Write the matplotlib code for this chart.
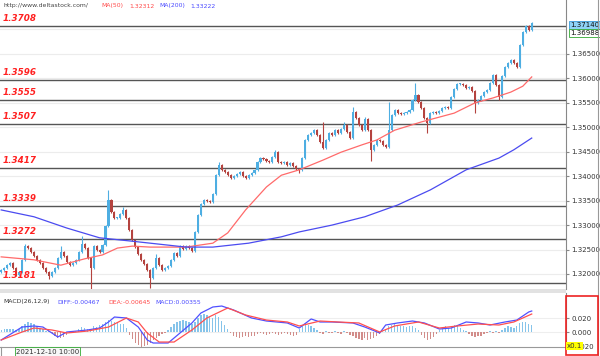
import numpy as np
import matplotlib.pyplot as plt
from matplotlib.patches import Rectangle
from matplotlib.lines import Line2D

# ---- data (hourly candles) ----
closes = [
    1.3208, 1.3212, 1.3218, 1.3222, 1.3212, 1.3198, 1.3204, 1.3229, 1.3257, 1.3253,
    1.3245, 1.3237, 1.3229, 1.3222, 1.3212, 1.3204, 1.3196, 1.3204, 1.3212, 1.3233,
    1.3245, 1.3237, 1.3225, 1.3218, 1.3222, 1.3229, 1.3245, 1.3261, 1.3253, 1.3233,
    1.3212, 1.3257, 1.3249, 1.3245, 1.3259, 1.3298, 1.3351, 1.3327, 1.3315, 1.3315,
    1.3323, 1.3331, 1.3315, 1.3290, 1.3270, 1.3255, 1.3241, 1.3229, 1.3220, 1.3208,
    1.3192, 1.3212, 1.3233, 1.3218, 1.3208, 1.3212, 1.3216, 1.3229, 1.3243, 1.3237,
    1.3257, 1.3251, 1.3257, 1.3253, 1.3247, 1.3286, 1.3321, 1.3343, 1.3351, 1.3349,
    1.3347, 1.3364, 1.3402, 1.3423, 1.3413, 1.3409, 1.3402, 1.3396, 1.3400, 1.3404,
    1.3409, 1.3400, 1.3396, 1.3402, 1.3407, 1.3413, 1.3429, 1.3437, 1.3435, 1.3431,
    1.3429, 1.3439, 1.3449, 1.3429, 1.3427, 1.3429, 1.3423, 1.3427, 1.3421, 1.3415,
    1.3413, 1.3437, 1.3474, 1.3484, 1.3488, 1.3494, 1.3484, 1.3470, 1.3458, 1.3474,
    1.3488, 1.3484, 1.3494, 1.3488, 1.3497, 1.3505, 1.3490, 1.3478, 1.3531, 1.3519,
    1.3505, 1.3494, 1.3517, 1.3494, 1.3454, 1.3464, 1.3474, 1.3472, 1.3464, 1.3460,
    1.3494, 1.3525, 1.3535, 1.3529, 1.3527, 1.3529, 1.3531, 1.3535, 1.3556, 1.3566,
    1.3552, 1.3540, 1.3519, 1.3509, 1.3529, 1.3531, 1.3529, 1.3533, 1.3540, 1.3542,
    1.3540, 1.3562, 1.3578, 1.3589, 1.3589, 1.3587, 1.3580, 1.3582, 1.3574, 1.3550,
    1.3556, 1.3564, 1.3572, 1.3576, 1.3591, 1.3607, 1.3587, 1.3562, 1.3605, 1.3623,
    1.3631, 1.3638, 1.3631, 1.3623, 1.3668, 1.3695, 1.3707, 1.3699, 1.3714,
]
first_open = 1.3205
# candles with long wicks
spike_highs = {8: 1.3262, 20: 1.3257, 27: 1.3278, 36: 1.3372, 41: 1.3337, 52: 1.3240,
               73: 1.3430, 92: 1.3453, 108: 1.3511, 115: 1.3511, 118: 1.3542,
               122: 1.3521, 130: 1.3552, 139: 1.3591, 178: 1.3716}
spike_lows = {16: 1.3190, 30: 1.3167, 50: 1.3172, 100: 1.3407, 124: 1.3431,
              143: 1.3489, 159: 1.3530, 167: 1.3556}

levels = [1.3708, 1.3596, 1.3555, 1.3507, 1.3417, 1.3339, 1.3272, 1.3181]
price_ticks = [1.320, 1.325, 1.330, 1.335, 1.340, 1.345, 1.350, 1.355, 1.360, 1.365]
grid_prices = price_ticks + [1.370]

ma50_idx = [0, 11, 20, 28, 34, 39, 44, 50, 56, 62, 71, 76, 82, 89, 94, 100, 108, 114,
            121, 126, 132, 141, 152, 159, 165, 171, 175, 178]
ma50_val = [1.3235, 1.3229, 1.3218, 1.3231, 1.3239, 1.3253, 1.3257, 1.3255, 1.3255,
            1.3255, 1.3263, 1.3284, 1.3331, 1.3378, 1.3402, 1.3413, 1.3433, 1.3449,
            1.3464, 1.3474, 1.3494, 1.3511, 1.3529, 1.3550, 1.3560, 1.3572, 1.3584, 1.3603]
ma200_idx = [0, 11, 22, 33, 44, 56, 62, 71, 83, 94, 100, 111, 122, 133, 144, 156, 167, 172, 178]
ma200_val = [1.3331, 1.3317, 1.3294, 1.3274, 1.3267, 1.3259, 1.3255, 1.3255, 1.3263,
             1.3276, 1.3286, 1.3300, 1.3317, 1.3341, 1.3372, 1.3413, 1.3437, 1.3454, 1.3478]

# MACD panel
diff_idx = [0, 7, 11, 14, 19, 22, 29, 33, 36, 38, 42, 46, 49, 51, 56, 60, 64, 67, 71, 74,
            78, 84, 89, 96, 100, 104, 107, 111, 118, 122, 127, 129, 133, 138, 142, 147,
            151, 156, 160, 164, 169, 173, 177, 178]
diff_val = [-0.0114, 0.0071, 0.0086, 0.0071, -0.0071, 0.0, 0.0029, 0.0057, 0.0143, 0.0214,
            0.0200, 0.0071, -0.0114, -0.0157, -0.0157, -0.0014, 0.0129, 0.0271, 0.0357,
            0.0371, 0.0314, 0.0200, 0.0157, 0.0129, 0.0057, 0.0186, 0.0143, 0.0143, 0.0129,
            0.0071, -0.0014, 0.0100, 0.0129, 0.0157, 0.0129, 0.0043, 0.0057, 0.0143, 0.0129,
            0.0100, 0.0143, 0.0171, 0.0286, 0.0300]
dea_idx = [0, 7, 11, 17, 22, 29, 36, 42, 46, 49, 53, 58, 64, 69, 76, 82, 89, 96, 100, 107,
           113, 120, 127, 132, 140, 147, 153, 160, 167, 172, 178]
dea_val = [-0.0114, 0.0, 0.0057, 0.0029, -0.0014, 0.0014, 0.0071, 0.0200, 0.0143, -0.0014,
           -0.0143, -0.0143, 0.0029, 0.0200, 0.0343, 0.0243, 0.0171, 0.0143, 0.0086, 0.0157,
           0.0143, 0.0129, 0.0, 0.0086, 0.0143, 0.0057, 0.0086, 0.0114, 0.0100, 0.0143, 0.0257]
hist = [
    0.003, 0.004, 0.004, 0.005, 0.004, 0.003, 0.005,
    0.008, 0.012, 0.014, 0.013, 0.011, 0.009,
    0.006, 0.004, 0.002, 0.001,
    -0.002, -0.005, -0.008, -0.009, -0.007, -0.004,
    -0.001, 0.001, 0.002,
    0.004, 0.007, 0.006, 0.004, 0.005, 0.008, 0.007,
    0.010, 0.012, 0.014, 0.017, 0.016, 0.014, 0.013, 0.012, 0.011, 0.006,
    -0.004, -0.010, -0.015, -0.019, -0.021, -0.020, -0.018, -0.015, -0.011,
    -0.008, -0.005, -0.003, -0.001,
    0.003, 0.007, 0.011, 0.014, 0.016, 0.017, 0.016, 0.014, 0.012, 0.015,
    0.020, 0.024, 0.026, 0.025, 0.022, 0.020, 0.024, 0.021, 0.016, 0.010, 0.005,
    -0.002, -0.005, -0.007, -0.008, -0.007, -0.006, -0.007, -0.006, -0.005, -0.003, -0.002, -0.003,
    -0.004, -0.003, -0.002, -0.003, -0.004, -0.003, -0.002, -0.003, -0.004, -0.005, -0.004,
    0.004, 0.009, 0.011, 0.010, 0.008, 0.006, 0.003,
    -0.002, -0.003, 0.002, -0.002, -0.001, 0.002, -0.002, -0.003, 0.001, -0.002, -0.004,
    -0.006, -0.009, -0.010, -0.011, -0.008, -0.012, -0.010, -0.008, -0.006, -0.003,
    0.002, 0.005, 0.008, 0.010, 0.011, 0.010, 0.009, 0.008, 0.007, 0.009, 0.008, 0.006, 0.003,
    -0.004, -0.008, -0.011, -0.010, -0.007, -0.003,
    0.003, 0.006, 0.008, 0.006, 0.009, 0.010, 0.008, 0.006, 0.003, 0.001,
    -0.003, -0.006, -0.007, -0.006, -0.005, -0.003, -0.001,
    0.001, -0.002, 0.002, -0.001, 0.003,
    0.006, 0.008, 0.007, 0.006, 0.009, 0.013, 0.015, 0.014, 0.012, 0.010,
]

# ---- colours ----
UP = '#4eaee2'
DOWN = '#b4433f'
LEVEL_RED = '#ff2020'

W, H = 600, 356
fig = plt.figure(figsize=(6, 3.56), dpi=100)
fig.patch.set_facecolor('white')


def fx(px):
    return px / W


def fy(py):
    return 1 - py / H


xl = (-0.4, 189.5)

# main price panel (pixel rows 0..289, columns 0..566)
ax = fig.add_axes([0, fy(289), fx(566), 289 / H])
ax.set_xlim(*xl)
ax.set_ylim(1.31693, 1.37603)

for gp in grid_prices:
    ax.axhline(gp, color='#ececec', lw=0.8, zorder=0)

opens = [first_open] + closes[:-1]
x = np.arange(len(closes))
for i in x:
    o, c = opens[i], closes[i]
    col = UP if c >= o else DOWN
    hi = spike_highs.get(i, max(o, c) + 0.0002)
    lo = spike_lows.get(i, min(o, c) - 0.0002)
    ax.vlines(i, lo, hi, color=col, lw=0.8, zorder=3)
    body = max(abs(c - o), 0.00006)
    ax.bar(i, body, bottom=min(o, c), width=0.7, color=col, lw=0, zorder=3)

ax.plot(ma50_idx, ma50_val, color='#ff6a6a', lw=0.9, zorder=4)
ax.plot(ma200_idx, ma200_val, color='#4b4bf0', lw=0.9, zorder=4)

for lv in levels:
    ax.axhline(lv, color='#555555', lw=1.0, zorder=2)
    ax.text(0.6, lv + 0.0006, '%.4f' % lv, color=LEVEL_RED, fontsize=6.3,
            fontweight='bold', fontstyle='italic', ha='left', va='bottom', zorder=6)

ax.yaxis.tick_right()
ax.set_yticks(price_ticks)
ax.set_yticklabels(['%.5f' % t for t in price_ticks])
ax.tick_params(axis='y', labelsize=5, length=2, pad=2, color='#888888', labelcolor='#333333')
ax.set_xticks([])
for s in ['top', 'left', 'bottom']:
    ax.spines[s].set_visible(False)
ax.spines['right'].set_color('#888888')
ax.spines['right'].set_linewidth(0.8)

# current price boxes on the right axis
ax.annotate('1.37140', xy=(1.0, 1.3709), xycoords=('axes fraction', 'data'),
            xytext=(3, 0), textcoords='offset points', fontsize=5, va='center',
            color='#111111', annotation_clip=False,
            bbox=dict(boxstyle='square,pad=0.15', fc='#8fd2f6', ec='#3a9ad9', lw=0.6))
ax.annotate('1.36988', xy=(1.0, 1.3693), xycoords=('axes fraction', 'data'),
            xytext=(3, 0), textcoords='offset points', fontsize=5, va='center',
            color='#111111', annotation_clip=False,
            bbox=dict(boxstyle='square,pad=0.15', fc='white', ec='#33aa33', lw=0.6))

# header line
hdr = 4.4
fig.text(fx(3), fy(6), 'http://www.deltastock.com/', fontsize=hdr, color='#444444', va='center')
fig.text(fx(101), fy(6), 'MA(50)', fontsize=hdr, color='#ff4a4a', va='center')
fig.text(fx(129), fy(6), '1.32312', fontsize=hdr, color='#ff4a4a', va='center')
fig.text(fx(159), fy(6), 'MA(200)', fontsize=hdr, color='#4a4aff', va='center')
fig.text(fx(190), fy(6), '1.33222', fontsize=hdr, color='#4a4aff', va='center')

# separator between panels
fig.patches.append(Rectangle((0, fy(293)), fx(566), 4 / H, transform=fig.transFigure,
                             fc='#e2e2e2', ec='none'))

# MACD panel (pixel rows 293..347)
mx = fig.add_axes([0, fy(347), fx(566), 54 / H])
mx.set_xlim(*xl)
mx.set_ylim(-0.0214, 0.0557)
mx.axhline(0.02, color='#eeeeee', lw=0.8, zorder=0)
mx.axhline(0.0, color='#eeeeee', lw=0.8, zorder=0)
hcol = ['#86c4ea' if h >= 0 else '#d28d8a' for h in hist]
mx.bar(np.arange(len(hist)), hist, width=0.45, color=hcol, lw=0, zorder=2)
mx.plot(diff_idx, diff_val, color='#5050ff', lw=0.9, zorder=3)
mx.plot(dea_idx, dea_val, color='#ff5050', lw=0.9, zorder=3)
mx.yaxis.tick_right()
mx.set_yticks([0.02, 0.0, -0.02])
mx.set_yticklabels(['0.020', '0.000', '-0.020'])
mx.tick_params(axis='y', labelsize=5, length=2, pad=2, color='#888888', labelcolor='#333333')
mx.set_xticks([])
for s in ['top', 'left']:
    mx.spines[s].set_visible(False)
mx.spines['right'].set_color('#888888')
mx.spines['bottom'].set_color('#999999')
mx.spines['right'].set_linewidth(0.8)

fig.text(fx(3), fy(302), 'MACD(26,12,9)', fontsize=hdr, color='#333333', va='center')
fig.text(fx(57), fy(302), 'DIFF:-0.00467', fontsize=hdr, color='#4a4aff', va='center')
fig.text(fx(108), fy(302), 'DEA:-0.00645', fontsize=hdr, color='#ff4a4a', va='center')
fig.text(fx(155), fy(302), 'MACD:0.00355', fontsize=hdr, color='#4a4aff', va='center')

# red frame round the MACD scale and the x0.1 tag
fig.patches.append(Rectangle((fx(566), fy(355)), fx(32), 59 / H, transform=fig.transFigure,
                             fc='none', ec='#ee2222', lw=1.2, zorder=10))
fig.text(fx(567), fy(346), 'x0.1', fontsize=5, color='#333333', va='center', zorder=11,
         bbox=dict(boxstyle='square,pad=0.1', fc='#ffff00', ec='none'))

# right outer border
fig.lines.append(Line2D([fx(598), fx(598)], [0, 1], transform=fig.transFigure,
                        color='#999999', lw=0.8))
fig.lines.append(Line2D([fx(0.5), fx(0.5)], [0, fy(347)], transform=fig.transFigure,
                        color='#999999', lw=0.8))

# time stamp box on the bottom axis
fig.text(fx(16), fy(351.5), '2021-12-10 10:00', fontsize=5, color='#333333', va='center',
         bbox=dict(boxstyle='square,pad=0.15', fc='#f7f7f7', ec='#33aa33', lw=0.6))

fig.savefig('out.png', dpi=100)
